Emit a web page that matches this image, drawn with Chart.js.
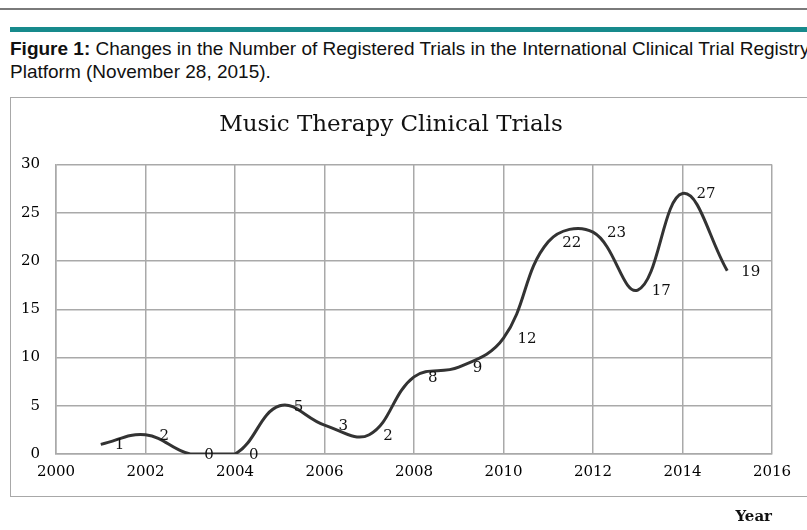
<!DOCTYPE html>
<html>
<head>
<meta charset="utf-8">
<script src="https://cdn.jsdelivr.net/npm/chart.js@4"></script>
<style>
	html, body { margin: 0; padding: 0; background: #fff; }
	body { width: 807px; height: 530px; position: relative; overflow: hidden; }
	.top-rule { position: absolute; left: 0; top: 8px; width: 807px; height: 2px; background: #7a7a7a; }
	.teal-bar { position: absolute; left: 10px; top: 27px; width: 797px; height: 5px; background: #178a8c; }
	.caption {
		position: absolute; left: 10px; top: 37px;
		font: 19px "Liberation Sans", Arial, sans-serif; line-height: 23px;
		color: #111; white-space: nowrap;
	}
	.caption b { font-weight: bold; }
	.chart-box { position: absolute; left: 10px; top: 97px; width: 820px; height: 400px; border: 1.5px solid #a8a8a8; box-sizing: border-box; }
	.chart-wrap { position: absolute; left: 10px; top: 97px; width: 797px; height: 433px; }
</style>
</head>
<body>
<div class="top-rule"></div>
<div class="teal-bar"></div>
<div class="caption"><b>Figure 1:</b> Changes in the Number of Registered Trials in the International Clinical Trial Registry<br>Platform (November 28, 2015).</div>
<div class="chart-box"></div>
<div class="chart-wrap"><canvas id="trials"></canvas></div>

<script>
"use strict";

const years = [2001, 2002, 2003, 2004, 2005, 2006, 2007, 2008, 2009, 2010, 2011, 2012, 2013, 2014, 2015];
const trials = [1, 2, 0, 0, 5, 3, 2, 8, 9, 12, 22, 23, 17, 27, 19];
const xTicks = [2000, 2002, 2004, 2006, 2008, 2010, 2012, 2014, 2016];
const yTicks = [0, 5, 10, 15, 20, 25, 30];

const serif = '"DejaVu Serif", "Liberation Serif", serif';

// подписи значений справа от точек
const valueLabels = {
	id: 'valueLabels',
	afterDatasetsDraw(chart) {
		const ctx = chart.ctx;
		const meta = chart.getDatasetMeta(0);
		ctx.save();
		ctx.font = '15px ' + serif;
		ctx.fillStyle = '#111';
		ctx.textAlign = 'left';
		ctx.textBaseline = 'middle';
		meta.data.forEach((pt, i) => {
			ctx.fillText(String(trials[i]), pt.x + 14, pt.y + 1);
		});
		ctx.restore();
	}
};

function eventHandler() {
	const canvas = document.getElementById('trials');

	new Chart(canvas, {
		type: 'line',
		data: {
			datasets: [{
				data: years.map((y, i) => ({ x: y, y: trials[i] })),
				borderColor: '#333333',
				borderWidth: 3,
				pointRadius: 0,
				tension: 0.4,
				fill: false,
			}]
		},
		options: {
			responsive: true,
			maintainAspectRatio: false,
			animation: false,
			layout: { padding: { top: 0, right: 35, bottom: 0, left: 0 } },
			plugins: {
				legend: { display: false },
				tooltip: { enabled: false },
				title: {
					display: true,
					text: 'Music Therapy Clinical Trials',
					color: '#111',
					font: { family: serif, size: 23, weight: 'normal' },
					padding: { top: 14, bottom: 26 },
				},
			},
			scales: {
				x: {
					type: 'linear',
					min: 2000,
					max: 2016,
					afterBuildTicks: (scale) => { scale.ticks = xTicks.map(v => ({ value: v })); },
					afterFit: (scale) => { scale.height = 76; },
					ticks: {
						color: '#000',
						font: { family: serif, size: 15 },
						padding: 9,
						maxRotation: 0,
						callback: (v) => String(v),
					},
					grid: { color: '#a9a9a9', lineWidth: 1.5, drawTicks: false },
					border: { color: '#a9a9a9', width: 1.5 },
					title: {
						display: true,
						text: 'Year',
						align: 'end',
						color: '#111',
						font: { family: serif, size: 15, weight: 'bold' },
						padding: { top: 0, bottom: 4 },
					},
				},
				y: {
					min: 0,
					max: 30,
					afterBuildTicks: (scale) => { scale.ticks = yTicks.map(v => ({ value: v })); },
					afterFit: (scale) => { scale.width = 46; },
					ticks: {
						color: '#000',
						font: { family: serif, size: 15 },
						padding: 16,
					},
					grid: { color: '#a9a9a9', lineWidth: 1.5, drawTicks: false },
					border: { color: '#a9a9a9', width: 1.5 },
				},
			},
		},
		plugins: [valueLabels],
	});
}

if (document.readyState !== 'loading') {
	eventHandler();
} else {
	document.addEventListener('DOMContentLoaded', eventHandler);
}
</script>
</body>
</html>
